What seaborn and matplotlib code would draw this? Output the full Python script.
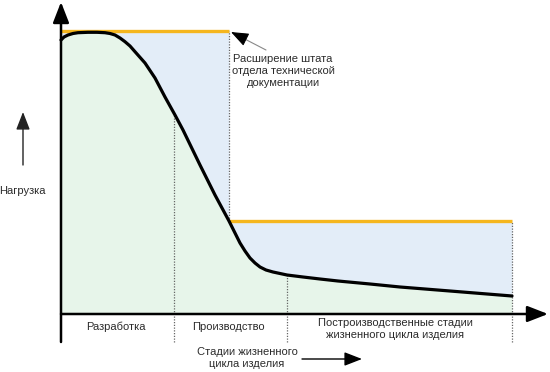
import numpy as np
import pandas as pd
import matplotlib
matplotlib.use("Agg")
import matplotlib.pyplot as plt
import seaborn as sns

# ---- data (x: life-cycle time, y: load) ----
curve_x = [0, 3, 7, 12, 17, 27, 36, 44, 49, 54, 59, 64, 69, 74, 84, 94, 104, 114, 122,
           139, 154, 168, 179, 184, 189, 194, 199, 205, 212, 226, 242, 259, 277, 309,
           339, 389, 451]
curve_y = [274, 277, 279, 280.5, 281.3, 281.7, 281.7, 281.3, 280.5, 279, 276, 272.3,
           268, 262.3, 251, 236, 217, 199, 184, 149, 119, 93, 71, 63, 56, 51, 47, 44,
           42, 39, 37, 35, 33, 30, 27, 23, 18]
staff_x = [0, 168, 451]          # staffing change points
staff_y = [283, 93]              # staffing levels before / after change
stage_bounds = [113, 168, 226, 451]
stage_labels = ["Разработка", "Производство",
                "Построизводственные стадии\nжизненного цикла изделия"]
stage_label_x = [55, 167, 334]
annot_text = "Расширение штата\nотдела технической\nдокументации"
ylabel = "Нагрузка"
xlabel = "Стадии жизненного\nцикла изделия"

sns.set_theme(style="white")
plt.rcParams['font.family'] = ['Liberation Sans', 'DejaVu Sans']

GREEN = "#e7f5ea"
BLUE = "#e3edf8"
ORANGE = "#f5b61e"
TXT = "#2b2b2b"

fig = plt.figure(figsize=(5.5, 3.72), dpi=100)
ax = fig.add_axes([0, 0, 1, 1])
ax.set_xlim(-61, 489)
ax.set_ylim(-58, 314)
ax.axis("off")

df = pd.DataFrame({"x": curve_x, "y": curve_y})
cx = np.array(curve_x, float)
cy = np.array(curve_y, float)

# fills
ax.fill_between(cx, 0, cy, color=GREEN, lw=0, zorder=1)
m1 = cx <= staff_x[1]
m2 = cx >= staff_x[1]
ax.fill_between(cx[m1], cy[m1], staff_y[0], color=BLUE, lw=0, zorder=1)
ax.fill_between(cx[m2], cy[m2], staff_y[1], color=BLUE, lw=0, zorder=1)

# dotted stage boundaries
dot = dict(color="#666666", lw=0.9, ls=(0, (1, 1.2)), zorder=2)
ax.vlines(stage_bounds[0], -28, np.interp(stage_bounds[0], cx, cy), **dot)
ax.vlines(stage_bounds[1], staff_y[1], staff_y[0], **dot)
ax.vlines(stage_bounds[2], -28, np.interp(stage_bounds[2], cx, cy), **dot)
ax.vlines(stage_bounds[3], -28, staff_y[1], **dot)

# staffing (orange)
ax.hlines(staff_y[0], staff_x[0], staff_x[1], color=ORANGE, lw=2.4, zorder=3)
ax.hlines(staff_y[1], staff_x[1], staff_x[2], color=ORANGE, lw=2.4, zorder=3)

# load curve
sns.lineplot(data=df, x="x", y="y", ax=ax, color="black", lw=2.3, zorder=4,
             sort=False, estimator=None)
ax.lines[-1].set_solid_joinstyle("round")
ax.axis("off")

head = "-|>,head_length=0.9,head_width=0.35"
# axes with arrows
ax.annotate("", xy=(0, 312), xytext=(0, -28),
            arrowprops=dict(arrowstyle=head, color="black", lw=1.8,
                            mutation_scale=14, shrinkA=0, shrinkB=0), zorder=5)
ax.annotate("", xy=(487, 0), xytext=(0, 0),
            arrowprops=dict(arrowstyle=head, color="black", lw=1.8,
                            mutation_scale=14, shrinkA=0, shrinkB=0), zorder=5)

# stage labels
ax.text(stage_label_x[0], -13, stage_labels[0], ha="center", va="center",
        fontsize=8, color=TXT)
ax.text(stage_label_x[1], -13, stage_labels[1], ha="center", va="center",
        fontsize=8, color=TXT)
ax.text(stage_label_x[2], -15, stage_labels[2], ha="center", va="center",
        fontsize=8, color=TXT, linespacing=1.35)

# x label + arrow
ax.text(186, -44, xlabel, ha="center", va="center", fontsize=8, color=TXT,
        linespacing=1.35)
ax.annotate("", xy=(301, -45), xytext=(241, -45),
            arrowprops=dict(arrowstyle=head, color="black", lw=1.0,
                            mutation_scale=12, shrinkA=0, shrinkB=0))

# y label + arrow
ax.text(-39, 123, ylabel, ha="center", va="center", fontsize=8, color=TXT)
ax.annotate("", xy=(-38, 202), xytext=(-38, 149),
            arrowprops=dict(arrowstyle=head, color="#222222", lw=1.0,
                            mutation_scale=12, shrinkA=0, shrinkB=0))

# annotation
ax.text(222, 243, annot_text, ha="center", va="center", fontsize=8,
        color=TXT, linespacing=1.3)
ax.annotate("", xy=(176, 279), xytext=(205, 264),
            arrowprops=dict(arrowstyle="-", color="#888888", lw=0.8,
                            shrinkA=0, shrinkB=0))
ax.annotate("", xy=(170, 282), xytext=(178, 278),
            arrowprops=dict(arrowstyle=head, color="black", lw=0.8,
                            mutation_scale=12, shrinkA=0, shrinkB=0))

fig.savefig("out.png", dpi=100)
